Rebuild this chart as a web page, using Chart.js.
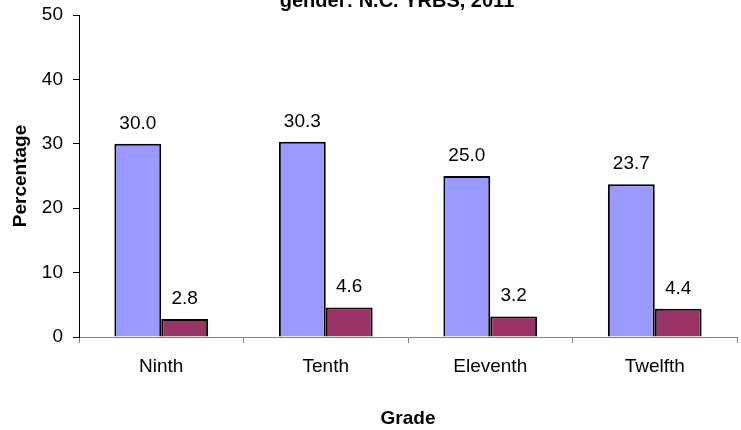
<!DOCTYPE html>
<html>
<head>
<meta charset="utf-8">
<script src="https://cdn.jsdelivr.net/npm/chart.js@4"></script>
<style>
  html, body { margin: 0; padding: 0; background: #fff; }
  #wrap { width: 741px; height: 430px; }
</style>
</head>
<body>
<div id="wrap"><canvas id="gradeChart" width="741" height="430"></canvas></div>
<script>
// Grades and percentages
const grades = ['Ninth', 'Tenth', 'Eleventh', 'Twelfth'];
const seriesA = [30.0, 30.3, 25.0, 23.7];
const seriesB = [2.8, 4.6, 3.2, 4.4];
const yTicks = [0, 10, 20, 30, 40, 50];
const titleText = 'gender: N.C. YRBS, 2011';

const FONT = '"Liberation Sans", Arial, sans-serif';

// Value labels above each bar
const valueLabels = {
    id: 'valueLabels',
    afterDatasetsDraw(chart) {
        const { ctx } = chart;
        ctx.save();
        ctx.font = '19px ' + FONT;
        ctx.fillStyle = '#000';
        ctx.textAlign = 'center';
        ctx.textBaseline = 'alphabetic';
        chart.data.datasets.forEach((ds, i) => {
            chart.getDatasetMeta(i).data.forEach((bar, j) => {
                ctx.fillText(ds.data[j].toFixed(1), bar.x, bar.y - 15);
            });
        });
        ctx.restore();
    }
};

// Title is cut off by the top edge in the reference
const cutTitle = {
    id: 'cutTitle',
    afterDraw(chart) {
        const { ctx } = chart;
        ctx.save();
        ctx.font = 'bold 20px ' + FONT;
        ctx.fillStyle = '#000';
        ctx.textAlign = 'center';
        ctx.textBaseline = 'alphabetic';
        ctx.fillText(titleText, 397, 7);
        ctx.restore();
    }
};

new Chart(document.getElementById('gradeChart'), {
    type: 'bar',
    data: {
        labels: grades,
        datasets: [{
            data: seriesA,
            backgroundColor: '#9999FF',
            borderColor: '#000',
            borderWidth: 2,
            categoryPercentage: 0.57,
            barPercentage: 1
        }, {
            data: seriesB,
            backgroundColor: '#993366',
            borderColor: '#000',
            borderWidth: 2,
            categoryPercentage: 0.57,
            barPercentage: 1
        }]
    },
    options: {
        responsive: false,
        animation: false,
        layout: { padding: { top: 15, right: 4, left: 0, bottom: 0 } },
        plugins: {
            legend: { display: false },
            title: { display: false },
            tooltip: { enabled: false }
        },
        scales: {
            x: {
                afterFit(axis) { axis.height = 93; },
                grid: {
                    offset: true,
                    drawOnChartArea: false,
                    tickLength: 6,
                    color: '#808080'
                },
                border: { color: '#808080', width: 1 },
                ticks: {
                    color: '#000',
                    font: { family: FONT, size: 19 },
                    padding: 12
                },
                title: {
                    display: true,
                    text: 'Grade',
                    color: '#000',
                    font: { family: FONT, size: 19, weight: 'bold' },
                    padding: { top: 4, bottom: 0 }
                }
            },
            y: {
                min: 0,
                max: 50,
                afterBuildTicks(axis) {
                    axis.ticks = yTicks.map(v => ({ value: v }));
                },
                afterFit(axis) {
                    axis.width = 79;
                    axis.paddingTop = 0;
                    axis.paddingBottom = 0;
                },
                grid: {
                    drawOnChartArea: false,
                    tickLength: 6,
                    color: '#000'
                },
                border: { color: '#000', width: 1 },
                ticks: {
                    color: '#000',
                    font: { family: FONT, size: 19 },
                    padding: 10
                },
                title: {
                    display: true,
                    text: 'Percentage',
                    color: '#000',
                    font: { family: FONT, size: 19, weight: 'bold' },
                    padding: { top: 9, bottom: 4 }
                }
            }
        }
    },
    plugins: [valueLabels, cutTitle]
});
</script>
</body>
</html>
